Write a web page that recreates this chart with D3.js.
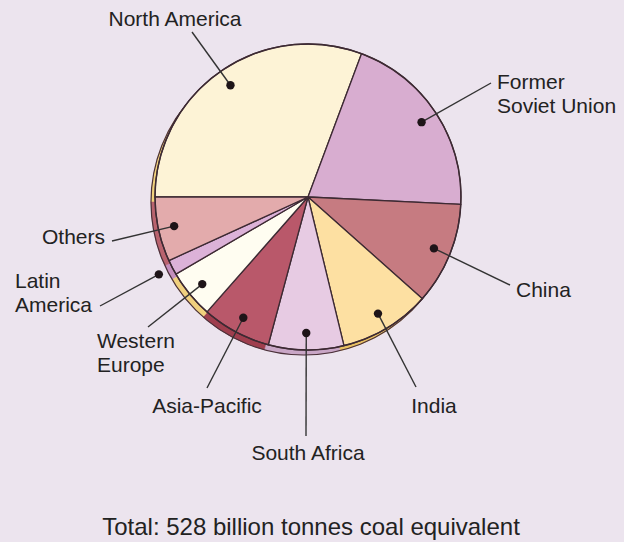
<!DOCTYPE html>
<html>
<head>
<meta charset="utf-8">
<script src="https://cdn.jsdelivr.net/npm/d3@7"></script>
<style>
  html, body { margin: 0; padding: 0; background: #ece4ee; }
  svg { display: block; }
  text { font-family: "Liberation Sans", Arial, Helvetica, sans-serif; fill: #222; }
</style>
</head>
<body>
<svg id="chart" width="624" height="542"></svg>
<script>
// ---- data (billion tonnes coal equivalent) ----
const regions = ["North America", "Former Soviet Union", "China", "India", "South Africa",
                 "Asia-Pacific", "Western Europe", "Latin America", "Others"];
const reserves = [162, 106, 57, 51, 42, 38.5, 27, 8.4, 36];
const totalLabel = "Total: 528 billion tonnes coal equivalent";

// ---- styles ----
const fills = ["#fdf3d6", "#d8add0", "#c67b81", "#fde0a2", "#e7cbe3",
               "#b9586a", "#fffdf1", "#dcb2d8", "#e3abac"];
const rimFills = ["#f1d27c", "#c58fbd", "#aa5866", "#e9c163", "#c9a6c6",
                  "#9f3e4e", "#f0d07e", "#c48fbd", "#b9636e"];

// ---- label layout ----
const labelLayout = {
  "North America":       {lines: ["North America"], x: 175, y: 26, anchor: "middle", lx: 192, ly: 32, dotR: 136},
  "Former Soviet Union": {lines: ["Former", "Soviet Union"], x: 497, y: 89, anchor: "start", lx: 491, ly: 83, dotR: 136},
  "China":               {lines: ["China"], x: 516, y: 297, anchor: "start", lx: 510, ly: 285, dotR: 136},
  "India":               {lines: ["India"], x: 434, y: 413, anchor: "middle", lx: 416, ly: 387, dotR: 136},
  "South Africa":        {lines: ["South Africa"], x: 308, y: 460, anchor: "middle", lx: 306, ly: 436, dotR: 136},
  "Asia-Pacific":        {lines: ["Asia-Pacific"], x: 207, y: 413, anchor: "middle", lx: 207, ly: 388, dotR: 137},
  "Western Europe":      {lines: ["Western", "Europe"], x: 97, y: 348, anchor: "start", lx: 148, ly: 327, dotR: 137},
  "Latin America":       {lines: ["Latin", "America"], x: 15, y: 288, anchor: "start", lx: 100, ly: 306, dotR: 168},
  "Others":              {lines: ["Others"], x: 105, y: 244, anchor: "end", lx: 112, ly: 241, dotR: 137}
};

const cx = 308, cy = 197, R = 153;
const rimDx = -4, rimDy = 5;

const data = regions.map((r, i) => ({name: r, value: reserves[i], fill: fills[i], rim: rimFills[i]}));

const svg = d3.select("#chart");

const pie = d3.pie().sort(null).value(d => d.value)
  .startAngle(-Math.PI / 2).endAngle(3 * Math.PI / 2);
const arcs = pie(data);
const arc = d3.arc().innerRadius(0).outerRadius(R);

// rim (3D edge)
const rim = svg.append("g").attr("transform", `translate(${cx + rimDx},${cy + rimDy})`);
rim.selectAll("path").data(arcs).join("path")
  .attr("d", arc)
  .attr("fill", d => d.data.rim)
  .attr("stroke", d => d.data.rim)
  .attr("stroke-width", 0.5);
rim.append("circle").attr("r", R).attr("fill", "none")
  .attr("stroke", "#4a3038").attr("stroke-width", 1.2);

// main pie
const g = svg.append("g").attr("transform", `translate(${cx},${cy})`);
g.selectAll("path").data(arcs).join("path")
  .attr("d", arc)
  .attr("fill", d => d.data.fill)
  .attr("stroke", "#3d2a33")
  .attr("stroke-width", 1.3)
  .attr("stroke-linejoin", "round");
g.append("circle").attr("r", R).attr("fill", "none")
  .attr("stroke", "#3d2a33").attr("stroke-width", 1.4);

// leader lines, dots and labels
arcs.forEach(a => {
  const L = labelLayout[a.data.name];
  const dotArc = d3.arc().innerRadius(L.dotR).outerRadius(L.dotR);
  const [dx, dy] = dotArc.centroid(a);
  const px = cx + dx, py = cy + dy;
  svg.append("line")
    .attr("x1", px).attr("y1", py).attr("x2", L.lx).attr("y2", L.ly)
    .attr("stroke", "#333").attr("stroke-width", 1.4);
  svg.append("circle").attr("cx", px).attr("cy", py).attr("r", 4.2).attr("fill", "#1e1418");
  const t = svg.append("text")
    .attr("x", L.x).attr("y", L.y)
    .attr("text-anchor", L.anchor)
    .attr("font-size", 21);
  L.lines.forEach((ln, i) => {
    t.append("tspan").attr("x", L.x).attr("dy", i === 0 ? 0 : 24).text(ln);
  });
});

svg.append("text")
  .attr("x", 311).attr("y", 535)
  .attr("text-anchor", "middle")
  .attr("font-size", 24)
  .text(totalLabel);
</script>
</body>
</html>
